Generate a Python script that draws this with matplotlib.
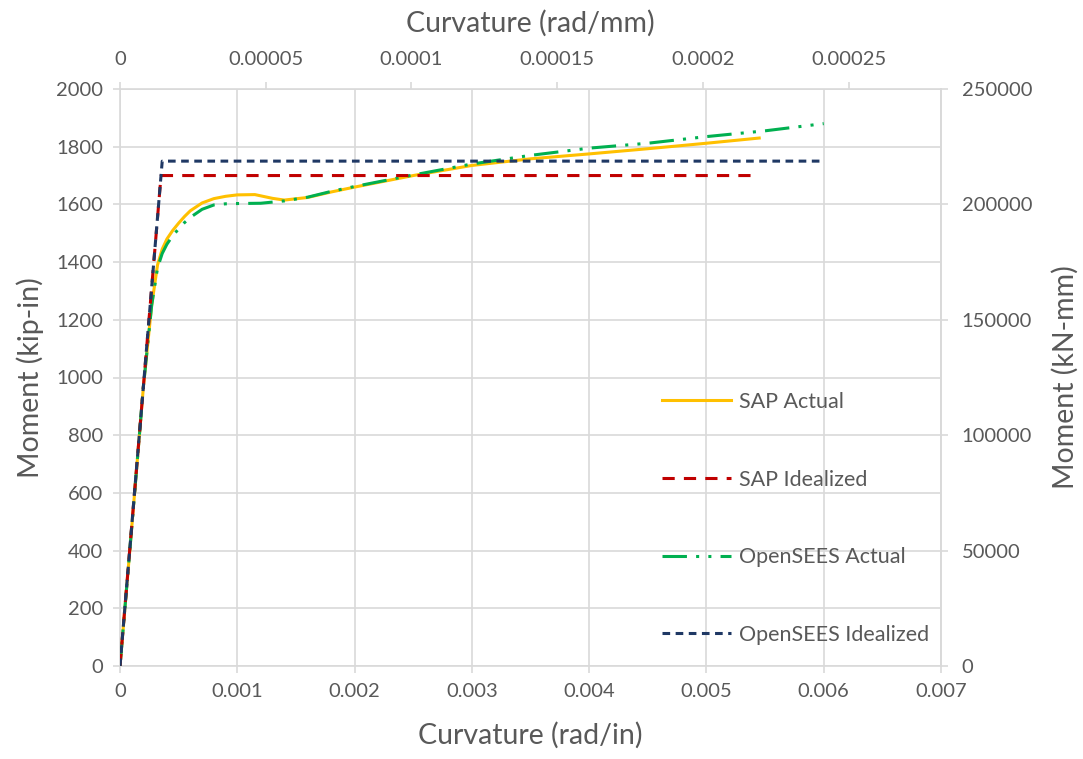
import matplotlib
matplotlib.use("Agg")
import matplotlib.pyplot as plt
from matplotlib.ticker import FixedLocator, FixedFormatter

plt.rcParams['font.family'] = ['Lato', 'DejaVu Sans']

# ---- data (curvature rad/in, moment kip-in) ----
sap_actual_x = [0, 0.0001, 0.0002, 0.00027, 0.00032, 0.00036, 0.0004, 0.00045, 0.0005, 0.00055,
                0.0006, 0.0007, 0.0008, 0.0009, 0.001, 0.00115, 0.0013, 0.0014, 0.0016, 0.0018,
                0.002, 0.0025, 0.003, 0.0035, 0.004, 0.0045, 0.005, 0.00545]
sap_actual_y = [0, 480, 970, 1250, 1390, 1445, 1480, 1510, 1535, 1558,
                1578, 1605, 1620, 1628, 1633, 1634, 1621, 1615, 1624, 1643,
                1660, 1700, 1735, 1758, 1775, 1793, 1812, 1830]

sap_ideal_x = [0, 0.00035, 0.00545]
sap_ideal_y = [0, 1700, 1700]

os_actual_x = [0, 0.0001, 0.0002, 0.00027, 0.00032, 0.00036, 0.0004, 0.00045, 0.0005, 0.00055,
               0.0006, 0.0007, 0.0008, 0.0009, 0.001, 0.0012, 0.0014, 0.0016, 0.0018, 0.002,
               0.0025, 0.003, 0.0035, 0.004, 0.0045, 0.005, 0.0055, 0.006]
os_actual_y = [0, 480, 970, 1250, 1380, 1430, 1462, 1492, 1515, 1537,
               1555, 1583, 1598, 1602, 1603, 1604, 1612, 1625, 1645, 1662,
               1702, 1740, 1770, 1795, 1812, 1835, 1855, 1880]

os_ideal_x = [0, 0.00036, 0.006]
os_ideal_y = [0, 1750, 1750]

x_ticks = [0, 0.001, 0.002, 0.003, 0.004, 0.005, 0.006, 0.007]
x_labels = ['0', '0.001', '0.002', '0.003', '0.004', '0.005', '0.006', '0.007']
y_ticks = [0, 200, 400, 600, 800, 1000, 1200, 1400, 1600, 1800, 2000]
y_labels = [str(v) for v in y_ticks]
y2_ticks = [0, 50000, 100000, 150000, 200000, 250000]
y2_labels = [str(v) for v in y2_ticks]
top_ticks = [0, 0.00005, 0.0001, 0.00015, 0.0002, 0.00025]
top_labels = ['0', '0.00005', '0.0001', '0.00015', '0.0002', '0.00025']
top_scale = 24.85  # secondary axis scale as drawn in the reference

TXT = '#595959'
GRID = '#D9D9D9'
TICK_FS = 14.5
TITLE_FS = 20.5

L, R, T, B = 120, 941, 89, 666
fig = plt.figure(figsize=(10.83, 7.59), dpi=100)
ax = fig.add_axes([L/1083, 1 - B/759, (R-L)/1083, (B-T)/759])

ax.plot(sap_actual_x, sap_actual_y, color='#FFC000', lw=2.2, label='SAP Actual', zorder=3)
ax.plot(sap_ideal_x, sap_ideal_y, color='#C00000', lw=2.2, dashes=(4, 3), label='SAP Idealized', zorder=4)
ax.plot(os_actual_x, os_actual_y, color='#00B050', lw=2.2, dashes=(8, 3, 1, 3, 1, 3),
        label='OpenSEES Actual', zorder=3)
ax.plot(os_ideal_x, os_ideal_y, color='#1F3864', lw=2.2, dashes=(2.5, 1.8), label='OpenSEES Idealized', zorder=5)

ax.set_xlim(0, 0.007)
ax.set_ylim(0, 2000)
ax.xaxis.set_major_locator(FixedLocator(x_ticks))
ax.xaxis.set_major_formatter(FixedFormatter(x_labels))
ax.yaxis.set_major_locator(FixedLocator(y_ticks))
ax.yaxis.set_major_formatter(FixedFormatter(y_labels))
ax.grid(True, color=GRID, lw=1.2)
ax.set_axisbelow(True)
ax.spines['top'].set_visible(False)
for s in ['bottom', 'left', 'right']:
    ax.spines[s].set_color(GRID)
    ax.spines[s].set_linewidth(1.2)
ax.tick_params(axis='both', colors=GRID, labelcolor=TXT, labelsize=TICK_FS, length=5, width=1.2)
ax.tick_params(axis='x', pad=7)
ax.tick_params(axis='y', pad=7)
ax.set_xlabel('Curvature (rad/in)', fontsize=TITLE_FS, color=TXT, labelpad=16)
ax.set_ylabel('Moment (kip-in)', fontsize=TITLE_FS, color=TXT, labelpad=9)

ax2 = ax.twinx()
ax2.set_ylim(0, 250000)
ax2.yaxis.set_major_locator(FixedLocator(y2_ticks))
ax2.yaxis.set_major_formatter(FixedFormatter(y2_labels))
for s in ['top', 'left', 'bottom']:
    ax2.spines[s].set_visible(False)
ax2.spines['right'].set_color(GRID)
ax2.spines['right'].set_linewidth(1.2)
ax2.tick_params(axis='y', colors=GRID, labelcolor=TXT, labelsize=TICK_FS, length=5, width=1.2, pad=10)
ax2.set_ylabel('Moment (kN-mm)', fontsize=TITLE_FS, color=TXT, labelpad=14)

top = ax.secondary_xaxis('top', functions=(lambda v: v / top_scale, lambda v: v * top_scale))
top.xaxis.set_major_locator(FixedLocator(top_ticks))
top.xaxis.set_major_formatter(FixedFormatter(top_labels))
top.spines['top'].set_color(GRID)
top.spines['top'].set_linewidth(1.2)
top.tick_params(axis='x', colors=GRID, labelcolor=TXT, labelsize=TICK_FS, length=5, width=1.2, pad=10)
top.set_xlabel('Curvature (rad/mm)', fontsize=TITLE_FS, color=TXT, labelpad=14)

leg = ax.legend(loc='upper left', bbox_to_anchor=(0.65, 0.49), frameon=False, borderaxespad=0,
                fontsize=15.5, labelspacing=2.68, handlelength=3.2, handletextpad=0.35)
for t in leg.get_texts():
    t.set_color(TXT)

fig.savefig('out.png', dpi=100)
